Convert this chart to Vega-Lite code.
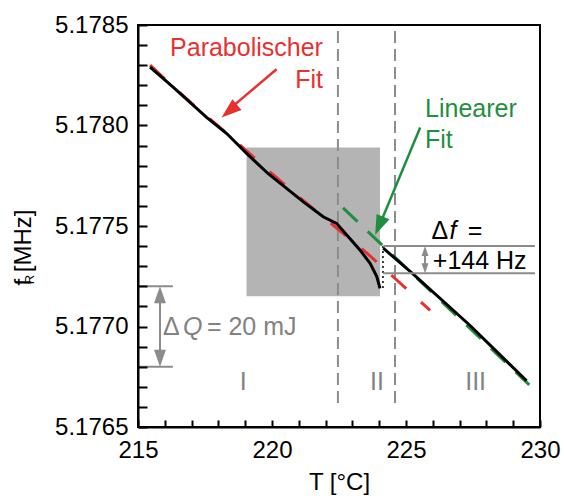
{
  "$schema": "https://vega.github.io/schema/vega-lite/v6.json",
  "width": 402,
  "height": 402,
  "autosize": "none",
  "padding": {"left": 138, "top": 25, "right": 24, "bottom": 74},
  "background": "white",
  "config": {
    "font": "Liberation Sans",
    "view": {"stroke": "black", "strokeWidth": 2},
    "axis": {
      "grid": false,
      "ticks": true,
      "domainColor": "black",
      "domainWidth": 2,
      "tickColor": "black",
      "tickWidth": 2,
      "labelFont": "Liberation Sans",
      "labelFontSize": 24,
      "labelColor": "black",
      "labelFlush": false,
      "labelOverlap": false,
      "titleFont": "Liberation Sans",
      "titleFontSize": 24,
      "titleFontWeight": "normal",
      "titleColor": "black"
    },
    "text": {"font": "Liberation Sans", "fontSize": 25}
  },
  "encoding": {
    "x": {
      "field": "T", "type": "quantitative",
      "scale": {"domain": [215, 230], "nice": false, "zero": false},
      "title": "T [°C]",
      "axis": {
        "values": [215, 216, 217, 218, 219, 220, 221, 222, 223, 224, 225, 226, 227, 228, 229, 230],
        "labelExpr": "datum.value % 5 === 0 ? datum.label : ''",
        "labelOverlap": false,
        "zindex": 2,
        "tickSize": -7,
        "labelPadding": 18,
        "titlePadding": 8
      }
    },
    "y": {
      "field": "f", "type": "quantitative",
      "scale": {"domain": [5.1765, 5.1785], "nice": false, "zero": false},
      "title": "f   [MHz]",
      "axis": {
        "values": [5.1765, 5.1766, 5.1767, 5.1768, 5.1769, 5.177, 5.1771, 5.1772, 5.1773, 5.1774, 5.1775, 5.1776, 5.1777, 5.1778, 5.1779, 5.178, 5.1781, 5.1782, 5.1783, 5.1784, 5.1785],
        "format": ".4f",
        "labelExpr": "round(datum.value * 10000) % 5 === 0 ? datum.label : ''",
        "labelOverlap": false,
        "zindex": 2,
        "tickSize": -9,
        "labelPadding": 19,
        "titleX": -108,
        "titleY": 222,
        "titleBaseline": "alphabetic"
      }
    }
  },
  "layer": [
    {
      "data": {"values": [{"T": 219.05, "T2": 224.03, "f": 5.17789, "f2": 5.17715}]},
      "mark": {"type": "rect", "color": "#b4b4b4"},
      "encoding": {
        "x2": {"field": "T2"},
        "y2": {"field": "f2"}
      }
    },
    {
      "data": {"values": [{"T": 222.46, "f": 5.17847, "f2": 5.1766}, {"T": 224.59, "f": 5.17847, "f2": 5.1766}]},
      "mark": {"type": "rule", "color": "#8c8c8c", "strokeWidth": 2, "strokeDash": [12, 6]},
      "encoding": {
        "y2": {"field": "f2"}
      }
    },
    {
      "data": {"values": [
        {"T": 215.45, "f": 5.1783},
        {"T": 217.0, "f": 5.17811},
        {"T": 218.5, "f": 5.17794},
        {"T": 220.0, "f": 5.17776},
        {"T": 221.5, "f": 5.17759},
        {"T": 222.5, "f": 5.17748},
        {"T": 223.5, "f": 5.17737},
        {"T": 224.5, "f": 5.17725},
        {"T": 225.9, "f": 5.17708}
      ]},
      "mark": {"type": "line", "color": "#e8302f", "strokeWidth": 3, "strokeDash": [20, 20]},
      "encoding": {}
    },
    {
      "data": {"values": [
        {"T": 222.65, "f": 5.17759},
        {"T": 229.6, "f": 5.17671}
      ]},
      "mark": {"type": "line", "color": "#1f8f3f", "strokeWidth": 3, "strokeDash": [20, 14]},
      "encoding": {}
    },
    {
      "data": {"values": [
        {"seg": "a", "T": 215.45, "f": 5.17829},
        {"seg": "a", "T": 216.32, "f": 5.17819},
        {"seg": "a", "T": 217.56, "f": 5.17804},
        {"seg": "a", "T": 218.31, "f": 5.17796},
        {"seg": "a", "T": 219.06, "f": 5.17786},
        {"seg": "a", "T": 219.86, "f": 5.17776},
        {"seg": "a", "T": 221.17, "f": 5.17762},
        {"seg": "a", "T": 221.91, "f": 5.177546},
        {"seg": "a", "T": 222.41, "f": 5.177513},
        {"seg": "a", "T": 222.79, "f": 5.177455},
        {"seg": "a", "T": 223.28, "f": 5.177381},
        {"seg": "a", "T": 223.66, "f": 5.177314},
        {"seg": "a", "T": 223.91, "f": 5.177248},
        {"seg": "a", "T": 224.03, "f": 5.17719},
        {"seg": "b", "T": 224.15, "f": 5.17739},
        {"seg": "b", "T": 225.27, "f": 5.17726},
        {"seg": "b", "T": 227.39, "f": 5.177005},
        {"seg": "b", "T": 228.5, "f": 5.17686},
        {"seg": "b", "T": 229.5, "f": 5.17673}
      ]},
      "mark": {"type": "line", "color": "black", "strokeWidth": 3},
      "encoding": {
        "detail": {"field": "seg"}
      }
    },
    {
      "data": {"values": [{"T": 224.14, "f": 5.1774, "f2": 5.17718}]},
      "mark": {"type": "rule", "color": "black", "strokeWidth": 1.5, "strokeDash": [2, 3]},
      "encoding": {
        "y2": {"field": "f2"}
      }
    },
    {
      "data": {"values": [
        {"T": 215, "T2": 216.3, "f": 5.1772, "f2": 5.1772},
        {"T": 215, "T2": 216.3, "f": 5.1768, "f2": 5.1768},
        {"T": 215.82, "T2": 215.82, "f": 5.17716, "f2": 5.17684},
        {"T": 224.15, "T2": 229.81, "f": 5.1774, "f2": 5.1774},
        {"T": 224.15, "T2": 229.81, "f": 5.177265, "f2": 5.177265},
        {"T": 225.71, "T2": 225.71, "f": 5.17737, "f2": 5.17729}
      ]},
      "mark": {"type": "rule", "color": "#8c8c8c", "strokeWidth": 2},
      "encoding": {
        "x2": {"field": "T2"},
        "y2": {"field": "f2"}
      }
    },
    {
      "data": {"values": [
        {"T": 215.82, "f": 5.1772, "end": "top"},
        {"T": 215.82, "f": 5.1768, "end": "bottom"}
      ]},
      "mark": {"type": "point", "shape": "M0,0L0.7,2L-0.7,2Z", "filled": true, "size": 289, "color": "#8c8c8c", "opacity": 1},
      "encoding": {
        "angle": {"condition": {"test": "datum.end === 'top'", "value": 0}, "value": 180}
      }
    },
    {
      "data": {"values": [
        {"T": 225.71, "f": 5.1774, "end": "top"},
        {"T": 225.71, "f": 5.177265, "end": "bottom"}
      ]},
      "mark": {"type": "point", "shape": "M0,0L0.7,2L-0.7,2Z", "filled": true, "size": 100, "color": "#8c8c8c", "opacity": 1},
      "encoding": {
        "angle": {"condition": {"test": "datum.end === 'top'", "value": 0}, "value": 180}
      }
    },
    {
      "data": {"values": [{"T": 220.17, "f": 5.17828, "T2": 218.4, "f2": 5.17808}]},
      "mark": {"type": "rule", "color": "#e8302f", "strokeWidth": 2.5},
      "encoding": {
        "x2": {"field": "T2"},
        "y2": {"field": "f2"}
      }
    },
    {
      "data": {"values": [{"T": 218.12, "f": 5.17804}]},
      "mark": {"type": "point", "shape": "M0,0L0.7,2L-0.7,2Z", "filled": true, "size": 400, "color": "#e8302f", "opacity": 1, "angle": 230},
      "encoding": {}
    },
    {
      "data": {"values": [{"T": 225.53, "f": 5.17799, "T2": 224.0, "f2": 5.1775}]},
      "mark": {"type": "rule", "color": "#1f8f3f", "strokeWidth": 2.5},
      "encoding": {
        "x2": {"field": "T2"},
        "y2": {"field": "f2"}
      }
    },
    {
      "data": {"values": [{"T": 223.85, "f": 5.177455}]},
      "mark": {"type": "point", "shape": "M0,0L0.7,2L-0.7,2Z", "filled": true, "size": 400, "color": "#1f8f3f", "opacity": 1, "angle": 203},
      "encoding": {}
    },
    {
      "data": {"values": [{"T": 220}, {"T": 225}]},
      "mark": {"type": "rule", "color": "black", "strokeWidth": 2},
      "encoding": {"y": {"datum": 5.1765}, "y2": {"datum": 5.17655}}
    },
    {
      "data": {"values": [{"T": 216}, {"T": 217}, {"T": 218}, {"T": 219}, {"T": 221}, {"T": 222}, {"T": 223}, {"T": 224}, {"T": 226}, {"T": 227}, {"T": 228}, {"T": 229}]},
      "mark": {"type": "rule", "color": "black", "strokeWidth": 2},
      "encoding": {"y": {"datum": 5.1765}, "y2": {"datum": 5.176525}}
    },
    {
      "data": {"values": [{"f": 5.177}, {"f": 5.1775}, {"f": 5.178}]},
      "mark": {"type": "rule", "color": "black", "strokeWidth": 2},
      "encoding": {"x": {"datum": 215}, "x2": {"datum": 215.37}}
    },
    {
      "data": {"values": [{"f": 5.1766}, {"f": 5.1767}, {"f": 5.1768}, {"f": 5.1769}, {"f": 5.1771}, {"f": 5.1772}, {"f": 5.1773}, {"f": 5.1774}, {"f": 5.1776}, {"f": 5.1777}, {"f": 5.1778}, {"f": 5.1779}, {"f": 5.1781}, {"f": 5.1782}, {"f": 5.1783}, {"f": 5.1784}]},
      "mark": {"type": "rule", "color": "black", "strokeWidth": 2},
      "encoding": {"x": {"datum": 215}, "x2": {"datum": 215.22}}
    },
    {
      "data": {"values": [
        {"text": "Parabolischer", "T": 221.9, "f": 5.178386},
        {"text": "Fit", "T": 221.9, "f": 5.178226}
      ]},
      "mark": {"type": "text", "color": "#e8302f", "align": "right", "baseline": "middle"},
      "encoding": {"text": {"field": "text"}}
    },
    {
      "data": {"values": [
        {"text": "Linearer", "T": 225.71, "f": 5.178082},
        {"text": "Fit", "T": 225.71, "f": 5.177928}
      ]},
      "mark": {"type": "text", "color": "#1f8f3f", "align": "left", "baseline": "middle"},
      "encoding": {"text": {"field": "text"}}
    },
    {
      "data": {"values": [
        {"text": "I", "T": 218.8, "f": 5.176725},
        {"text": "II", "T": 223.66, "f": 5.176725},
        {"text": "III", "T": 227.21, "f": 5.176725},
        {"text": "Δ", "T": 215.93, "f": 5.1770},
        {"text": "= 20 mJ", "T": 217.57, "f": 5.1770}
      ]},
      "mark": {"type": "text", "color": "#828282", "align": "left", "baseline": "middle"},
      "encoding": {"text": {"field": "text"}}
    },
    {
      "data": {"values": [{"text": "Q", "T": 216.68, "f": 5.1770}]},
      "mark": {"type": "text", "color": "#828282", "align": "left", "baseline": "middle", "fontStyle": "italic"},
      "encoding": {"text": {"field": "text"}}
    },
    {
      "data": {"values": [
        {"text": "Δ", "T": 225.95, "f": 5.177475},
        {"text": "=", "T": 227.3, "f": 5.177475},
        {"text": "+144 Hz", "T": 226.0, "f": 5.177326}
      ]},
      "mark": {"type": "text", "color": "black", "align": "left", "baseline": "middle"},
      "encoding": {"text": {"field": "text"}}
    },
    {
      "data": {"values": [{"text": "f", "T": 226.62, "f": 5.177475}]},
      "mark": {"type": "text", "color": "black", "align": "left", "baseline": "middle", "fontStyle": "italic"},
      "encoding": {"text": {"field": "text"}}
    },
    {
      "data": {"values": [{"text": "R", "T": 215, "f": 5.177234}]},
      "mark": {"type": "text", "color": "black", "align": "center", "baseline": "middle", "fontSize": 13, "angle": 270, "dy": -108},
      "encoding": {"text": {"field": "text"}}
    }
  ]
}
